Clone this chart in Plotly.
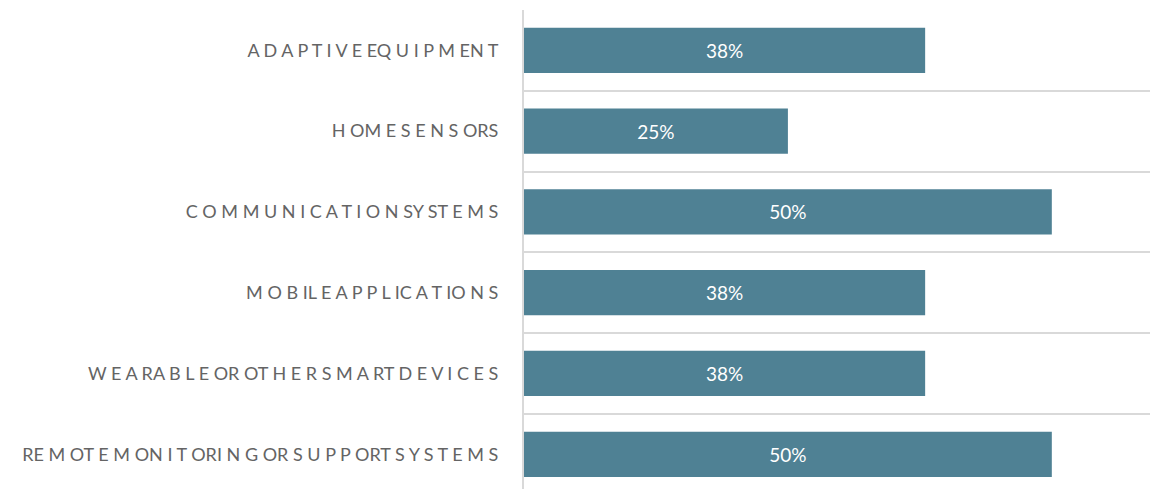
import plotly.graph_objects as go

categories = [
    "A D A P T I V E EQ U I P M EN T",
    "H OM E S E N S ORS",
    "C O M M U N I C A T I O N SY ST E M S",
    "M O B IL E A P P L IC A T IO N S",
    "W E A RA B L E OR OT H E R S M A RT D E V I C E S",
    "RE M OT E M ON I T ORI N G OR S U P P ORT S Y S T E M S",
]
values = [38, 25, 50, 38, 38, 50]
labels = ["38%", "25%", "50%", "38%", "38%", "50%"]

n = len(categories)
ypos = [n - 1 - i for i in range(n)]

fig = go.Figure(go.Bar(
    x=values, y=ypos, orientation="h",
    marker=dict(color="#4f8194", line=dict(width=0)),
    width=0.56,
    text=labels, textposition="inside", insidetextanchor="middle",
    textfont=dict(color="white", size=19, family="Lato"),
    hoverinfo="skip",
))

fig.update_layout(
    width=1150, height=489,
    margin=dict(l=524, r=0, t=10, b=0),
    paper_bgcolor="white", plot_bgcolor="white",
    showlegend=False,
    font=dict(family="Lato", color="#595959"),
)
fig.update_xaxes(range=[0, 59.3], showgrid=False, zeroline=False,
                 showticklabels=False, showline=False, fixedrange=True)
fig.update_yaxes(
    range=[-0.43, 5.5], tickmode="array", tickvals=ypos, ticktext=categories,
    tickfont=dict(size=18, color="#646464", family="Lato"),
    showgrid=False, zeroline=False, automargin=False, fixedrange=True,
    showline=True, linecolor="#d9d9d9", linewidth=2,
    ticks="", ticklabelstandoff=20,
    minor=dict(tickmode="array", tickvals=[i + 0.5 for i in range(-1, n)],
               showgrid=True, gridcolor="#d9d9d9", gridwidth=2, ticks=""),
)

fig.write_html("out.html", config={"displayModeBar": False},
               post_script="document.body.style.margin='0';document.body.style.overflow='hidden';")
